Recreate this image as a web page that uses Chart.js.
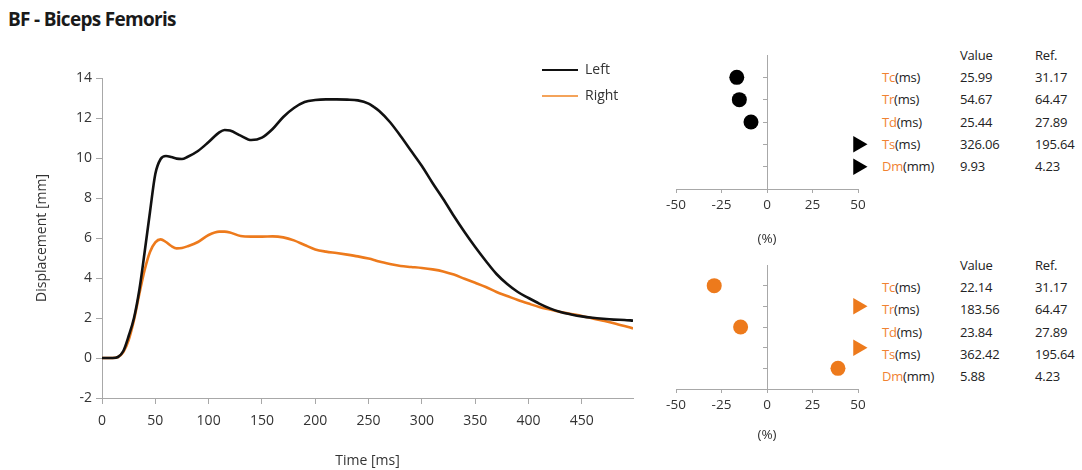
<!DOCTYPE html>
<html>
<head>
<meta charset="utf-8">
<script src="https://cdn.jsdelivr.net/npm/chart.js@4.4.1/dist/chart.umd.min.js"></script>
<style>
	body { margin: 0; background: #fff; font-family: "Open Sans", "Noto Sans", sans-serif; color: #222; }
	#page { position: relative; width: 1082px; height: 470px; overflow: hidden; }
	.abs { position: absolute; }
	#title { left: 8px; top: 6px; font-size: 19px; font-weight: 700; color: #1a1a1a; letter-spacing: -0.7px; }
	.leg { font-size: 14px; color: #333; line-height: 16px; }
	.leg i { position: absolute; left: 0; top: 7px; width: 36px; height: 2px; }
	.leg span { position: absolute; left: 43px; top: -1px; white-space: nowrap; }
	.cell { font-size: 13px; line-height: 14px; white-space: nowrap; color: #222; letter-spacing: -0.2px; }
	.cell b { font-weight: 400; color: #f08232; }
</style>
</head>
<body>
<div id="page">
	<div id="title" class="abs">BF - Biceps Femoris</div>
	<canvas id="mainChart" class="abs" style="left:0;top:0"></canvas>
	<div class="abs leg" style="left:542px;top:62px"><i style="background:#111"></i><span>Left</span></div>
	<div class="abs leg" style="left:542px;top:88px"><i style="background:#f4a35a"></i><span>Right</span></div>
	<canvas id="leftPanel" class="abs" style="left:650px;top:40px"></canvas>
	<canvas id="rightPanel" class="abs" style="left:650px;top:250px"></canvas>
	<div id="tables"></div>
</div>
<script>
// 시간축 (ms)
let times = [0, 10, 15, 20, 25, 30, 35, 40, 45, 50, 55, 60, 65, 70, 75, 80, 90, 100, 110, 115,
	120, 130, 140, 150, 160, 170, 180, 190, 200, 210, 220, 230, 240, 250, 255, 260, 270, 280, 290, 300,
	310, 320, 330, 340, 350, 360, 370, 380, 390, 400, 410, 420, 430, 440, 450, 460, 470, 480, 490, 498];
let timeTicks = [0, 50, 100, 150, 200, 250, 300, 350, 400, 450];

// 변위 (mm)
let leftDisp = [0, 0, 0.05, 0.35, 1.1, 2.0, 3.4, 5.3, 7.3, 9.2, 9.95, 10.1, 10.05, 9.97, 9.95, 10.05, 10.35, 10.8, 11.28, 11.4,
	11.37, 11.12, 10.9, 11.02, 11.45, 12.05, 12.5, 12.8, 12.9, 12.93, 12.93, 12.92, 12.88, 12.72, 12.55, 12.35, 11.8, 11.1, 10.35, 9.6,
	8.75, 7.95, 7.1, 6.3, 5.55, 4.85, 4.2, 3.7, 3.3, 3.0, 2.72, 2.48, 2.3, 2.18, 2.08, 2.01, 1.96, 1.92, 1.9, 1.87];
let rightDisp = [0, 0, 0.05, 0.3, 0.9, 1.9, 3.2, 4.4, 5.3, 5.78, 5.93, 5.8, 5.6, 5.48, 5.5, 5.58, 5.8, 6.15, 6.32, 6.32,
	6.28, 6.1, 6.07, 6.07, 6.08, 6.03, 5.88, 5.65, 5.43, 5.32, 5.25, 5.17, 5.08, 4.97, 4.9, 4.82, 4.7, 4.6, 4.55, 4.5,
	4.43, 4.33, 4.17, 3.96, 3.76, 3.55, 3.3, 3.1, 2.9, 2.72, 2.55, 2.42, 2.3, 2.2, 2.1, 1.98, 1.86, 1.74, 1.6, 1.48];

// 파라미터 표
let params = ['Tc', 'Tr', 'Td', 'Ts', 'Dm'];
let units = ['(ms)', '(ms)', '(ms)', '(ms)', '(mm)'];
let leftValues = ['25.99', '54.67', '25.44', '326.06', '9.93'];
let rightValues = ['22.14', '183.56', '23.84', '362.42', '5.88'];
let refValues = ['31.17', '64.47', '27.89', '195.64', '4.23'];

// 기준 대비 차이 (%)
let leftPct = [-16.6, -15.2, -8.8, 66.7, 134.8];
let rightPct = [-29.0, 184.7, -14.5, 85.2, 39.0];

let pctTicks = [-50, -25, 0, 25, 50];

let ORANGE = '#ed7a1c';
let AXIS = '#a8a8a8';
let FONT = '"Open Sans", "Noto Sans", sans-serif';

Chart.defaults.font.family = FONT;
Chart.defaults.animation = false;
Chart.defaults.plugins.legend.display = false;
Chart.defaults.plugins.tooltip.enabled = false;

function xy(values) {
	return times.map(function(t, i) { return { x: t, y: values[i] }; });
}

let mainCanvas = document.getElementById('mainChart');
mainCanvas.width = 650;
mainCanvas.height = 470;
mainCanvas.style.width = '650px';
mainCanvas.style.height = '470px';

new Chart(mainCanvas, {
	type: 'line',
	data: {
		datasets: [{
			label: 'Left',
			data: xy(leftDisp),
			borderColor: '#111',
			borderWidth: 2.6,
			pointRadius: 0,
			cubicInterpolationMode: 'monotone'
		}, {
			label: 'Right',
			data: xy(rightDisp),
			borderColor: ORANGE,
			borderWidth: 2.6,
			pointRadius: 0,
			cubicInterpolationMode: 'monotone'
		}]
	},
	options: {
		responsive: false,
		layout: { padding: { left: 34, top: 78, right: 17, bottom: 0 } },
		scales: {
			x: {
				type: 'linear',
				min: 0,
				max: 498,
				afterFit: function(s) { s.height = 72; },
				afterBuildTicks: function(s) { s.ticks = timeTicks.map(function(v) { return { value: v }; }); },
				ticks: { color: '#333', font: { size: 14 }, padding: 9, maxRotation: 0 },
				grid: { drawOnChartArea: false, tickLength: 6, color: AXIS },
				border: { color: AXIS },
				title: { display: true, text: 'Time [ms]', color: '#333', font: { size: 14 }, padding: { top: 0, bottom: 1 } }
			},
			y: {
				min: -2,
				max: 14,
				afterFit: function(s) { s.width = 68; },
				ticks: { stepSize: 2, color: '#333', font: { size: 14 }, padding: 4 },
				grid: { drawOnChartArea: false, tickLength: 6, color: AXIS },
				border: { color: AXIS },
				title: { display: true, text: 'Displacement [mm]', color: '#333', font: { size: 14 }, padding: 0 }
			}
		}
	}
});

function makePanel(id, pct, color, padBottom, xHeight) {
	let cv = document.getElementById(id);
	cv.width = 220;
	cv.height = 210;
	cv.style.width = '220px';
	cv.style.height = '210px';
	let over = pct.map(function(p) { return p > 50; });
	new Chart(cv, {
		type: 'scatter',
		data: {
			datasets: [{
				data: pct.map(function(p, i) { return { x: Math.max(-50, Math.min(50, p)), y: i + 1 }; }),
				backgroundColor: color,
				borderColor: color,
				borderWidth: 0,
				pointRadius: over.map(function(o) { return o ? 9.5 : 7.5; }),
				pointStyle: over.map(function(o) { return o ? 'triangle' : 'circle'; }),
				rotation: over.map(function(o) { return o ? 90 : 0; }),
				clip: false
			}]
		},
		options: {
			responsive: false,
			layout: { padding: { left: 26, right: 12, top: 15, bottom: padBottom } },
			scales: {
				x: {
					type: 'linear',
					min: -50,
					max: 50,
					afterFit: function(s) { s.height = xHeight; },
					afterBuildTicks: function(s) { s.ticks = pctTicks.map(function(v) { return { value: v }; }); },
					ticks: { color: '#333', font: { size: 13.5 }, padding: 4, maxRotation: 0 },
					grid: { drawOnChartArea: false, tickLength: 4, color: AXIS },
					border: { color: AXIS },
					title: { display: true, text: '(%)', color: '#333', font: { size: 13.5 }, padding: { top: 0, bottom: 3 } }
				},
				y: {
					type: 'linear',
					min: 0,
					max: 6,
					reverse: true,
					position: { x: 0 },
					afterBuildTicks: function(s) { s.ticks = params.map(function(p, i) { return { value: i + 1 }; }); },
					ticks: { callback: function() { return ''; }, padding: 0 },
					grid: { drawOnChartArea: false, tickLength: 4, color: AXIS },
					border: { color: AXIS }
				}
			}
		}
	});
}

makePanel('leftPanel', leftPct, '#000', 0, 61);
makePanel('rightPanel', rightPct, ORANGE, 14, 57);

// 표 그리기
function makeTable(top, values) {
	let box = document.getElementById('tables');
	let rowGap = 22.2;
	let html = '';
	html += '<div class="abs cell" style="left:960px;top:' + (top - 8) + 'px">Value</div>';
	html += '<div class="abs cell" style="left:1035px;top:' + (top - 8) + 'px">Ref.</div>';
	params.forEach(function(p, i) {
		let y = top + rowGap * (i + 1) - 8;
		html += '<div class="abs cell" style="left:882px;top:' + y + 'px"><b>' + p + '</b>' + units[i] + '</div>';
		html += '<div class="abs cell" style="left:960px;top:' + y + 'px">' + values[i] + '</div>';
		html += '<div class="abs cell" style="left:1035px;top:' + y + 'px">' + refValues[i] + '</div>';
	});
	box.insertAdjacentHTML('beforeend', html);
}

makeTable(56, leftValues);
makeTable(266, rightValues);
</script>
</body>
</html>
